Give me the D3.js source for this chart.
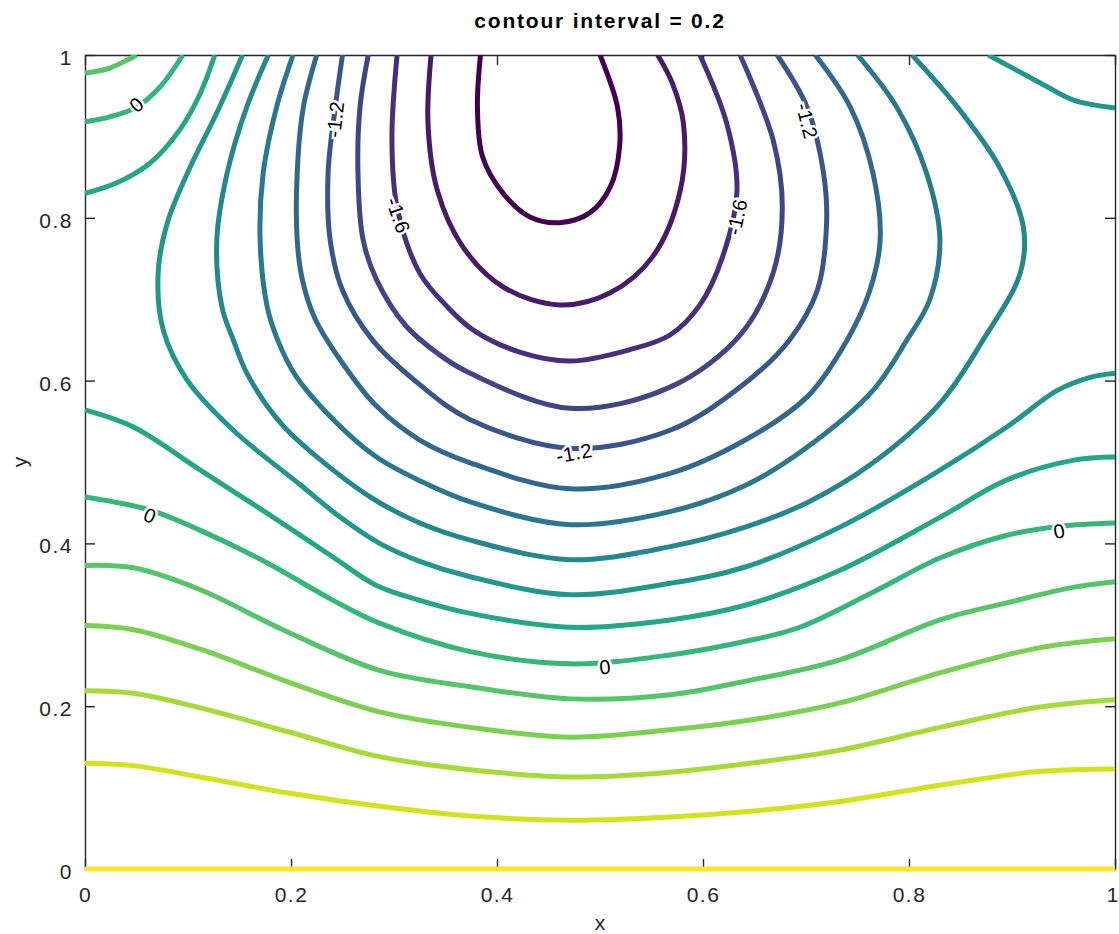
<!DOCTYPE html>
<html><head><meta charset="utf-8">
<script src="https://cdn.jsdelivr.net/npm/d3@7"></script>
<style>
body{margin:0;background:#fff;}
svg{display:block;}
</style></head><body>
<svg id="chart" width="1119" height="934"></svg>
<script>
// ---------- data ----------
const titleText = "contour interval = 0.2";
const xTicks = [0, 0.2, 0.4, 0.6, 0.8, 1];
const yTicks = [0, 0.2, 0.4, 0.6, 0.8, 1];
const xTickLabels = ["0", "0.2", "0.4", "0.6", "0.8", "1"];
const yTickLabels = ["0", "0.2", "0.4", "0.6", "0.8", "1"];
const levelMin = -2.0, levelMax = 1.0;

// contour paths, [x, y] in data units
const c_p10  = [[0,0],[1,0]];
const c_p08  = [[0,0.130],[0.047,0.127],[0.112,0.113],[0.199,0.093],[0.286,0.077],[0.374,0.065],[0.471,0.060],[0.568,0.064],[0.646,0.071],[0.733,0.083],[0.830,0.103],[0.927,0.120],[1,0.123]];
const c_p06  = [[0,0.219],[0.047,0.216],[0.112,0.198],[0.199,0.168],[0.286,0.138],[0.374,0.122],[0.471,0.113],[0.568,0.119],[0.646,0.130],[0.733,0.146],[0.830,0.174],[0.927,0.199],[1,0.208]];
const c_p04  = [[0,0.299],[0.047,0.294],[0.112,0.270],[0.199,0.229],[0.286,0.193],[0.374,0.174],[0.471,0.162],[0.568,0.171],[0.646,0.183],[0.733,0.204],[0.830,0.241],[0.927,0.272],[1,0.283]];
const c_p02  = [[0,0.373],[0.047,0.370],[0.112,0.343],[0.192,0.294],[0.286,0.244],[0.374,0.224],[0.471,0.209],[0.568,0.214],[0.646,0.232],[0.733,0.257],[0.830,0.306],[0.895,0.327],[0.959,0.346],[1,0.353]];
const c_p02a = [[0,0.978],[0.024,0.984],[0.050,1.0]];
const c_p00  = [[0,0.457],[0.063,0.441],[0.112,0.416],[0.177,0.376],[0.241,0.330],[0.286,0.302],[0.374,0.267],[0.471,0.252],[0.568,0.263],[0.646,0.281],[0.694,0.297],[0.765,0.340],[0.830,0.382],[0.895,0.410],[0.947,0.421],[1,0.425]];
const c_p00a = [[0,0.918],[0.024,0.924],[0.050,0.936],[0.073,0.961],[0.095,1.0]];
const c_m02  = [[0,0.564],[0.047,0.543],[0.112,0.490],[0.177,0.437],[0.241,0.383],[0.282,0.349],[0.325,0.330],[0.374,0.314],[0.471,0.297],[0.568,0.306],[0.641,0.324],[0.733,0.367],[0.830,0.432],[0.895,0.478],[0.959,0.502],[1,0.506]];
const c_m02a = [[0,0.830],[0.031,0.843],[0.063,0.867],[0.092,0.908],[0.112,0.953],[0.126,1.0]];
const c_m04  = [[0.153,1.0],[0.128,0.929],[0.102,0.862],[0.080,0.794],[0.071,0.732],[0.076,0.662],[0.099,0.601],[0.144,0.539],[0.209,0.472],[0.248,0.432],[0.286,0.400],[0.325,0.378],[0.374,0.359],[0.471,0.337],[0.568,0.351],[0.641,0.371],[0.733,0.420],[0.830,0.490],[0.895,0.543],[0.944,0.588],[0.976,0.604],[1,0.609]];
const c_m04a = [[0.877,1.0],[0.927,0.966],[0.959,0.945],[1,0.935]];
const c_m06  = [[0.178,1.0],[0.157,0.936],[0.138,0.855],[0.128,0.773],[0.133,0.690],[0.144,0.650],[0.158,0.607],[0.192,0.545],[0.241,0.490],[0.282,0.453],[0.325,0.425],[0.374,0.404],[0.471,0.380],[0.568,0.396],[0.641,0.420],[0.701,0.450],[0.765,0.499],[0.830,0.572],[0.872,0.650],[0.908,0.732],[0.911,0.789],[0.888,0.862],[0.847,0.936],[0.803,1.0]];
const c_m08  = [[0.202,1.0],[0.186,0.936],[0.173,0.855],[0.170,0.773],[0.177,0.690],[0.187,0.650],[0.204,0.607],[0.235,0.560],[0.282,0.507],[0.325,0.477],[0.374,0.451],[0.471,0.423],[0.568,0.439],[0.641,0.471],[0.701,0.518],[0.765,0.588],[0.798,0.650],[0.820,0.699],[0.830,0.773],[0.817,0.855],[0.788,0.936],[0.750,1.0]];
const c_m10  = [[0.225,1.0],[0.212,0.936],[0.206,0.855],[0.206,0.773],[0.211,0.724],[0.223,0.677],[0.248,0.625],[0.282,0.570],[0.325,0.527],[0.374,0.499],[0.471,0.467],[0.568,0.486],[0.641,0.527],[0.701,0.580],[0.740,0.650],[0.762,0.711],[0.772,0.773],[0.765,0.855],[0.743,0.936],[0.709,1.0]];
const c_m12  = [[0.250,1.0],[0.243,0.936],[0.236,0.855],[0.238,0.773],[0.250,0.711],[0.279,0.650],[0.325,0.595],[0.374,0.552],[0.471,0.517],[0.568,0.539],[0.641,0.597],[0.684,0.650],[0.711,0.711],[0.720,0.794],[0.717,0.855],[0.701,0.936],[0.672,1.0]];
const c_m14  = [[0.275,1.0],[0.267,0.936],[0.265,0.855],[0.270,0.773],[0.283,0.724],[0.311,0.668],[0.345,0.631],[0.374,0.609],[0.471,0.566],[0.568,0.592],[0.636,0.656],[0.668,0.732],[0.677,0.813],[0.668,0.896],[0.636,1.0]];
const c_m16  = [[0.303,1.0],[0.298,0.896],[0.303,0.813],[0.325,0.732],[0.350,0.693],[0.377,0.662],[0.422,0.635],[0.471,0.624],[0.529,0.638],[0.568,0.656],[0.597,0.693],[0.619,0.752],[0.633,0.834],[0.623,0.916],[0.597,1.0]];
const c_m18  = [[0.336,1.0],[0.333,0.916],[0.342,0.834],[0.367,0.764],[0.406,0.715],[0.461,0.693],[0.510,0.708],[0.551,0.752],[0.578,0.834],[0.581,0.916],[0.570,0.966],[0.556,1.0]];
const c_m20  = [[0.384,1.0],[0.381,0.936],[0.386,0.875],[0.406,0.830],[0.432,0.801],[0.461,0.794],[0.490,0.806],[0.510,0.838],[0.519,0.887],[0.517,0.936],[0.500,1.0]];

// contour labels (level, position in data units)
const labelLevels = [0, -1.2, -1.6, -1.6, -1.2, -1.2, 0, 0, 0];
const labelX = [0.050, 0.243, 0.304, 0.633, 0.701, 0.475, 0.063, 0.946, 0.505];
const labelY = [0.939, 0.921, 0.803, 0.801, 0.919, 0.511, 0.434, 0.415, 0.248];

// table built from the arrays above
const contours = [
  {level: 1.0, pts: c_p10}, {level: 0.8, pts: c_p08}, {level: 0.6, pts: c_p06},
  {level: 0.4, pts: c_p04}, {level: 0.2, pts: c_p02}, {level: 0.2, pts: c_p02a},
  {level: 0.0, pts: c_p00}, {level: 0.0, pts: c_p00a},
  {level: -0.2, pts: c_m02}, {level: -0.2, pts: c_m02a},
  {level: -0.4, pts: c_m04}, {level: -0.4, pts: c_m04a},
  {level: -0.6, pts: c_m06}, {level: -0.8, pts: c_m08}, {level: -1.0, pts: c_m10},
  {level: -1.2, pts: c_m12}, {level: -1.4, pts: c_m14}, {level: -1.6, pts: c_m16},
  {level: -1.8, pts: c_m18}, {level: -2.0, pts: c_m20}
];

// ---------- drawing ----------
const svg = d3.select("#chart");
const L = 85, R = 1115, T = 55, B = 869;
const x = d3.scaleLinear().domain([0, 1]).range([L, R]);
const y = d3.scaleLinear().domain([0, 1]).range([B, T]);
const color = v => d3.interpolateViridis((v - levelMin) / (levelMax - levelMin));
const font = "'Liberation Sans', Arial, Helvetica, sans-serif";
const axisColor = "#262626";

svg.append("rect").attr("width", 1119).attr("height", 934).attr("fill", "#fff");

// axes (inward ticks, mirrored)
function styleAxis(g) {
  g.selectAll("path.domain").attr("stroke", axisColor).attr("stroke-width", 1.4);
  g.selectAll(".tick line").attr("stroke", axisColor).attr("stroke-width", 1.4);
  g.selectAll(".tick text").attr("fill", axisColor).attr("font-size", 21)
    .attr("font-family", font).style("letter-spacing", "1.5px");
}
const gB = svg.append("g").attr("transform", `translate(0,${B})`)
  .call(d3.axisBottom(x).tickValues(xTicks).tickFormat((d, i) => xTickLabels[i])
    .tickSizeInner(-10).tickSizeOuter(0).tickPadding(18));
styleAxis(gB);
gB.selectAll(".tick text").filter(d => d === 1).attr("dx", -3).style("letter-spacing", "0px");
const gL = svg.append("g").attr("transform", `translate(${L},0)`)
  .call(d3.axisLeft(y).tickValues(yTicks).tickFormat((d, i) => yTickLabels[i])
    .tickSizeInner(-10).tickSizeOuter(0).tickPadding(12));
styleAxis(gL);
gL.selectAll(".tick text").attr("dy", "0.45em");
const gT = svg.append("g").attr("transform", `translate(0,${T})`)
  .call(d3.axisTop(x).tickValues(xTicks).tickFormat("").tickSizeInner(-10).tickSizeOuter(0));
styleAxis(gT);
const gR = svg.append("g").attr("transform", `translate(${R},0)`)
  .call(d3.axisRight(y).tickValues(yTicks).tickFormat("").tickSizeInner(-10).tickSizeOuter(0));
styleAxis(gR);

// clip for contours
svg.append("clipPath").attr("id", "plotclip").append("rect")
  .attr("x", L).attr("y", T).attr("width", R - L).attr("height", B - T + 4);

const lineGen = d3.line().x(d => x(d[0])).y(d => y(d[1]))
  .curve(d3.curveCatmullRom.alpha(0.5));

svg.append("g").attr("clip-path", "url(#plotclip)")
  .selectAll("path").data(contours).join("path")
  .attr("d", d => lineGen(d.pts))
  .attr("fill", "none")
  .attr("stroke", d => color(d.level))
  .attr("stroke-width", 5)
  .attr("stroke-linejoin", "round")
  .attr("stroke-linecap", "butt");

// contour labels, rotated along the local tangent
function tangentAngle(level, px, py) {
  let best = null, bestD = Infinity;
  contours.filter(c => Math.abs(c.level - level) < 1e-9).forEach(c => {
    const p = c.pts.map(q => [x(q[0]), y(q[1])]);
    for (let i = 0; i < p.length - 1; i++) {
      const mx = (p[i][0] + p[i + 1][0]) / 2, my = (p[i][1] + p[i + 1][1]) / 2;
      const dd = (mx - px) ** 2 + (my - py) ** 2;
      if (dd < bestD) { bestD = dd; best = [p[i], p[i + 1]]; }
    }
  });
  let a = Math.atan2(best[1][1] - best[0][1], best[1][0] - best[0][0]) * 180 / Math.PI;
  if (a > 90) a -= 180;
  if (a <= -90) a += 180;
  return a;
}
const labels = labelLevels.map((lv, i) => ({level: lv, x: labelX[i], y: labelY[i]}));
svg.append("g").selectAll("text").data(labels).join("text")
  .attr("transform", d => {
    const px = x(d.x), py = y(d.y);
    return `translate(${px},${py}) rotate(${tangentAngle(d.level, px, py)})`;
  })
  .attr("text-anchor", "middle")
  .attr("dominant-baseline", "central")
  .attr("font-family", font)
  .attr("font-size", 20)
  .style("letter-spacing", "0.5px")
  .attr("fill", "#000")
  .attr("stroke", "#fff").attr("stroke-width", 5).attr("paint-order", "stroke")
  .text(d => d.level === 0 ? "0" : String(d.level));

// title and axis labels
svg.append("text").attr("x", (L + R) / 2).attr("y", 28).attr("text-anchor", "middle")
  .attr("font-family", font).attr("font-size", 21).attr("font-weight", "bold")
  .style("letter-spacing", "1.8px").attr("fill", "#000").text(titleText);
svg.append("text").attr("x", (L + R) / 2).attr("y", 930).attr("text-anchor", "middle")
  .attr("font-family", font).attr("font-size", 21).attr("fill", axisColor).text("x");
svg.append("text").attr("transform", `translate(27,${(T + B) / 2}) rotate(-90)`)
  .attr("text-anchor", "middle").attr("font-family", font).attr("font-size", 21)
  .attr("fill", axisColor).text("y");
</script>
</body></html>
